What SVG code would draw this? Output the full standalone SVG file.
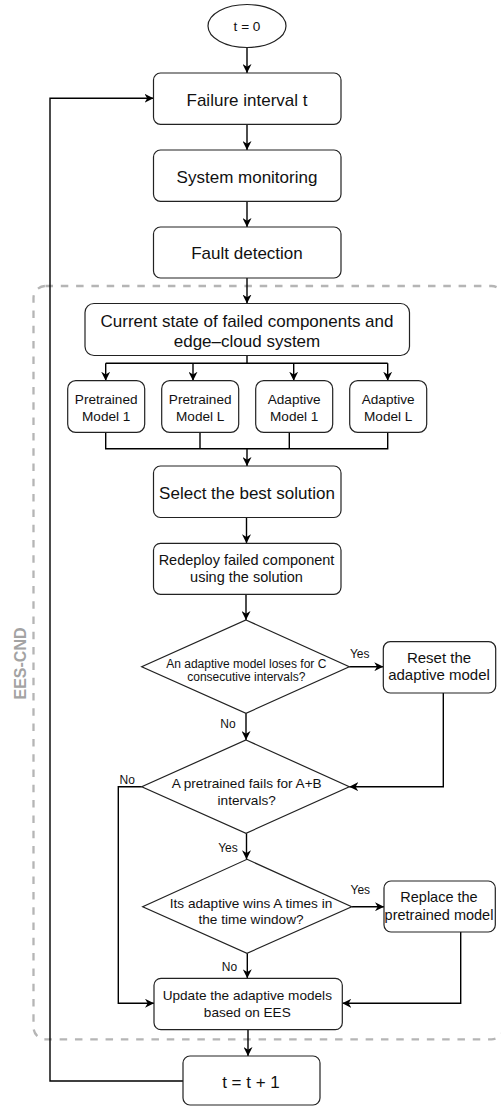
<svg xmlns="http://www.w3.org/2000/svg" width="501" height="1106" viewBox="0 0 501 1106">
<style>
.box{fill:#fff;stroke:#222;stroke-width:1.2}
.ln{fill:none;stroke:#000;stroke-width:1.4}
.t{font-family:"Liberation Sans",Arial,sans-serif;fill:#111;text-anchor:middle}
.f17{font-size:17px}
.f15{font-size:15px}
.f145{font-size:14.5px}
.f136{font-size:13.6px}
.f12{font-size:12px}
</style>
<defs>
<marker id="ah" viewBox="0 0 10 10" refX="10" refY="5" markerWidth="9" markerHeight="9" markerUnits="userSpaceOnUse" orient="auto">
<path d="M0,0 L10,5 L0,10 L3,5 Z" fill="#000"/>
</marker>
</defs>
<rect x="33.5" y="286" width="470" height="753.3" rx="12" fill="none" stroke="#b5b5b5" stroke-width="2.3" stroke-dasharray="7.5 7.8"/>
<text transform="translate(25.7,663.5) rotate(-90)" x="0" y="0" style="font-family:'Liberation Sans',Arial,sans-serif;font-size:16px;font-weight:bold;fill:#a3a3a3;text-anchor:middle">EES-CND</text>
<g id="connectors">
<path class="ln" d="M247,47.5 V73" marker-end="url(#ah)"/>
<path class="ln" d="M247,124.3 V150" marker-end="url(#ah)"/>
<path class="ln" d="M247,201.3 V227" marker-end="url(#ah)"/>
<path class="ln" d="M247,278 V303.5" marker-end="url(#ah)"/>
<path class="ln" d="M247,355.5 V363.3 M105.7,363.3 H387.7"/>
<path class="ln" d="M105.7,363.3 V380.7" marker-end="url(#ah)"/>
<path class="ln" d="M193,363.3 V380.7" marker-end="url(#ah)"/>
<path class="ln" d="M293.7,363.3 V380.7" marker-end="url(#ah)"/>
<path class="ln" d="M387.7,363.3 V380.7" marker-end="url(#ah)"/>
<path class="ln" d="M105.7,432.3 V448.7 H387.7 V432.3 M200,432.3 V448.7 M289.3,432.3 V448.7"/>
<path class="ln" d="M247,448.7 V466" marker-end="url(#ah)"/>
<path class="ln" d="M246.5,517.5 V543.3" marker-end="url(#ah)"/>
<path class="ln" d="M246,594.3 V620" marker-end="url(#ah)"/>
<path class="ln" d="M246,713.3 V740" marker-end="url(#ah)"/>
<path class="ln" d="M349.3,666.7 H383.3" marker-end="url(#ah)"/>
<path class="ln" d="M443.3,693 V786.7 H349.3" marker-end="url(#ah)"/>
<path class="ln" d="M141.7,786.7 H118.3 V1003.3 H154" marker-end="url(#ah)"/>
<path class="ln" d="M246.5,833.3 V859.3" marker-end="url(#ah)"/>
<path class="ln" d="M351.7,906.7 H384" marker-end="url(#ah)"/>
<path class="ln" d="M460.7,932 V1003.3 H342.3" marker-end="url(#ah)"/>
<path class="ln" d="M247.3,953.3 V978.3" marker-end="url(#ah)"/>
<path class="ln" d="M248,1029.7 V1056" marker-end="url(#ah)"/>
<path class="ln" d="M183,1081 H50 V98.3 H153.5" marker-end="url(#ah)"/>
<text class="t f12" x="359.7" y="658.3">Yes</text>
<text class="t f12" x="228" y="728.3">No</text>
<text class="t f12" x="127.2" y="783.7">No</text>
<text class="t f12" x="228" y="852">Yes</text>
<text class="t f12" x="360.3" y="894">Yes</text>
<text class="t f12" x="229.5" y="970.7">No</text>
</g>
<g id="start">
<ellipse class="box" cx="247" cy="26" rx="39" ry="21.5"/>
<text class="t f136" x="247" y="30.8">t = 0</text>
</g>
<g id="failure-interval">
<rect class="box" x="153.5" y="73" width="187.5" height="51.3" rx="7"/>
<text class="t f17" x="247" y="105.5">Failure interval t</text>
</g>
<g id="system-monitoring">
<rect class="box" x="153.5" y="150" width="187.5" height="51.3" rx="7"/>
<text class="t f17" x="247" y="182.5">System monitoring</text>
</g>
<g id="fault-detection">
<rect class="box" x="153.5" y="227" width="187.5" height="51" rx="7"/>
<text class="t f17" x="247" y="259.3">Fault detection</text>
</g>
<g id="current-state">
<rect class="box" x="85" y="303.5" width="324.5" height="52" rx="9"/>
<text class="t f17" x="247" y="326.5">Current state of failed components and</text>
<text class="t f17" x="247" y="346.5">edge–cloud system</text>
</g>
<g id="pretrained-1">
<rect class="box" x="67.7" y="380.7" width="77" height="51.6" rx="8"/>
<text class="t f136" x="106.2" y="403.5">Pretrained</text>
<text class="t f136" x="106.2" y="420.5">Model 1</text>
</g>
<g id="pretrained-l">
<rect class="box" x="161.7" y="380.7" width="77" height="51.6" rx="8"/>
<text class="t f136" x="200.2" y="403.5">Pretrained</text>
<text class="t f136" x="200.2" y="420.5">Model L</text>
</g>
<g id="adaptive-1">
<rect class="box" x="255.7" y="380.7" width="77" height="51.6" rx="8"/>
<text class="t f136" x="294.2" y="403.5">Adaptive</text>
<text class="t f136" x="294.2" y="420.5">Model 1</text>
</g>
<g id="adaptive-l">
<rect class="box" x="349.7" y="380.7" width="77" height="51.6" rx="8"/>
<text class="t f136" x="388.2" y="403.5">Adaptive</text>
<text class="t f136" x="388.2" y="420.5">Model L</text>
</g>
<g id="select-best">
<rect class="box" x="153.5" y="466" width="187.5" height="51.5" rx="7"/>
<text class="t f17" x="247" y="498.5">Select the best solution</text>
</g>
<g id="redeploy">
<rect class="box" x="153.5" y="543.3" width="187.5" height="51" rx="7"/>
<text class="t f145" x="246.5" y="564.5">Redeploy failed component</text>
<text class="t f145" x="246.5" y="582">using the solution</text>
</g>
<g id="decision-adaptive-loses">
<polygon class="box" points="246,620 349.3,666.7 246,713.3 141.7,666.7"/>
<text class="t f12" x="246.3" y="667.5">An adaptive model loses for C</text>
<text class="t f12" x="246.3" y="680.5">consecutive intervals?</text>
</g>
<g id="reset-adaptive">
<rect class="box" x="383.3" y="641.7" width="112.4" height="51.3" rx="7"/>
<text class="t f15" x="439" y="663.3">Reset the</text>
<text class="t f15" x="439" y="680.3">adaptive model</text>
</g>
<g id="decision-pretrained-fails">
<polygon class="box" points="246,740 349.3,786.7 246,833.3 141.7,786.7"/>
<text class="t f136" x="246.7" y="788.3">A pretrained fails for A+B</text>
<text class="t f136" x="246.7" y="805">intervals?</text>
</g>
<g id="decision-adaptive-wins">
<polygon class="box" points="247,859.3 351.7,906.7 247,953.3 142.7,906.7"/>
<text class="t f136" x="251" y="908.3">Its adaptive wins A times in</text>
<text class="t f136" x="251" y="924.3">the time window?</text>
</g>
<g id="replace-pretrained">
<rect class="box" x="384" y="881" width="111.3" height="51" rx="7"/>
<text class="t f145" x="439" y="902">Replace the</text>
<text class="t f145" x="439" y="919.5">pretrained model</text>
</g>
<g id="update-adaptive">
<rect class="box" x="154" y="978.3" width="188.3" height="51.4" rx="7"/>
<text class="t f136" x="247.3" y="1000">Update the adaptive models</text>
<text class="t f136" x="247.3" y="1016.7">based on EES</text>
</g>
<g id="increment-t">
<rect class="box" x="183" y="1056" width="137" height="49" rx="7"/>
<text class="t f17" x="251" y="1088.3">t = t + 1</text>
</g>
</svg>
